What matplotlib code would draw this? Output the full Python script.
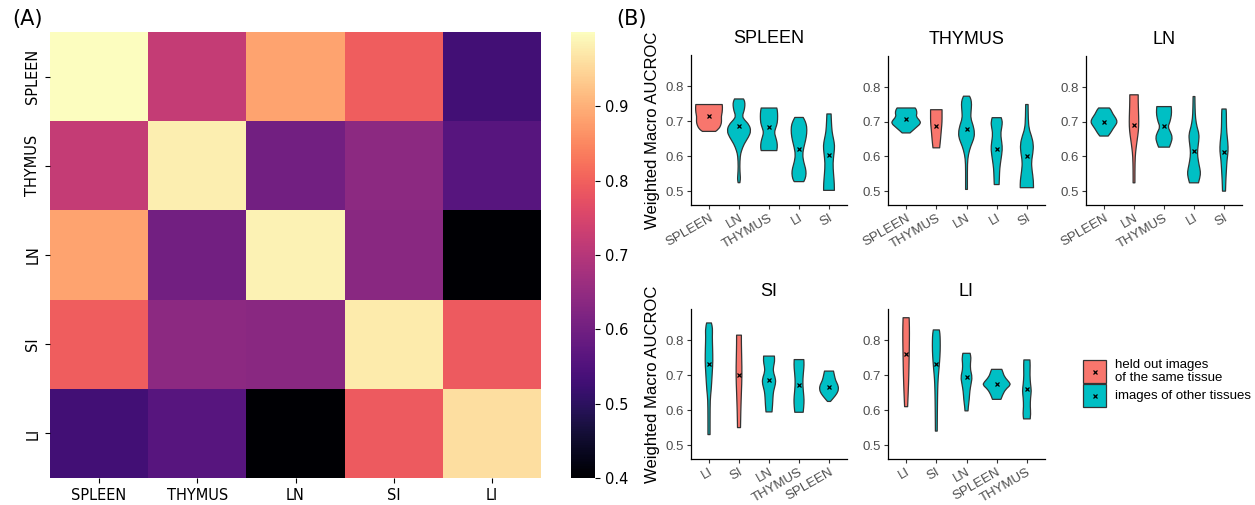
import numpy as np
import matplotlib
matplotlib.use("Agg")
import matplotlib.pyplot as plt
from matplotlib.patches import Rectangle, PathPatch
from matplotlib.path import Path

# ---------------- data ----------------
tissues = ["SPLEEN", "THYMUS", "LN", "SI", "LI"]

# (A) heatmap values, rows = trained on, cols = tested on
heat_vals = np.array([
    [1.000, 0.720, 0.885, 0.795, 0.530],
    [0.720, 0.980, 0.600, 0.640, 0.560],
    [0.885, 0.600, 0.985, 0.635, 0.400],
    [0.795, 0.640, 0.635, 0.975, 0.790],
    [0.530, 0.560, 0.400, 0.790, 0.960],
])

# (B) violin panels: category order, means, and outline profiles (value, half width)
spleen_order = ["SPLEEN", "LN", "THYMUS", "LI", "SI"]
spleen_means = [0.714, 0.686, 0.684, 0.620, 0.603]
spleen_prof = [
    [(0.671, 0.22), (0.678, 0.33), (0.690, 0.40), (0.700, 0.42), (0.714, 0.41), (0.725, 0.44), (0.740, 0.45), (0.748, 0.44)],
    [(0.524, 0.03), (0.535, 0.05), (0.545, 0.04), (0.570, 0.025), (0.600, 0.04), (0.615, 0.08), (0.635, 0.17), (0.655, 0.32),
     (0.672, 0.40), (0.690, 0.34), (0.705, 0.17), (0.715, 0.11), (0.730, 0.17), (0.745, 0.20), (0.757, 0.19), (0.764, 0.15)],
    [(0.616, 0.26), (0.625, 0.28), (0.640, 0.27), (0.655, 0.22), (0.668, 0.18), (0.680, 0.22), (0.695, 0.28), (0.715, 0.29),
     (0.730, 0.28), (0.738, 0.26)],
    [(0.527, 0.16), (0.535, 0.21), (0.550, 0.24), (0.565, 0.22), (0.585, 0.15), (0.605, 0.12), (0.625, 0.16), (0.645, 0.22),
     (0.665, 0.26), (0.685, 0.26), (0.700, 0.21), (0.711, 0.14)],
    [(0.502, 0.18), (0.520, 0.18), (0.550, 0.15), (0.580, 0.13), (0.610, 0.17), (0.630, 0.19), (0.650, 0.15), (0.670, 0.10),
     (0.700, 0.08), (0.721, 0.07)],
]

thymus_order = ["SPLEEN", "THYMUS", "LN", "LI", "SI"]
thymus_means = [0.707, 0.687, 0.679, 0.623, 0.602]
thymus_prof = [
    [(0.668, 0.13), (0.675, 0.22), (0.685, 0.35), (0.695, 0.48), (0.703, 0.46), (0.715, 0.33), (0.725, 0.36), (0.735, 0.34),
     (0.740, 0.30)],
    [(0.625, 0.11), (0.640, 0.13), (0.660, 0.15), (0.680, 0.17), (0.700, 0.19), (0.720, 0.19), (0.735, 0.19)],
    [(0.505, 0.03), (0.530, 0.03), (0.580, 0.03), (0.605, 0.06), (0.630, 0.14), (0.650, 0.24), (0.668, 0.27), (0.690, 0.22),
     (0.710, 0.14), (0.730, 0.15), (0.750, 0.17), (0.765, 0.15), (0.774, 0.10)],
    [(0.519, 0.08), (0.540, 0.09), (0.565, 0.10), (0.590, 0.14), (0.620, 0.19), (0.640, 0.17), (0.665, 0.13), (0.685, 0.17),
     (0.700, 0.19), (0.712, 0.15)],
    [(0.510, 0.22), (0.530, 0.22), (0.560, 0.17), (0.585, 0.15), (0.610, 0.20), (0.635, 0.22), (0.660, 0.15), (0.680, 0.07),
     (0.710, 0.045), (0.750, 0.04)],
]

ln_order = ["SPLEEN", "LN", "THYMUS", "LI", "SI"]
ln_means = [0.700, 0.692, 0.689, 0.615, 0.613]
ln_prof = [
    [(0.659, 0.14), (0.668, 0.22), (0.680, 0.30), (0.692, 0.40), (0.700, 0.44), (0.710, 0.40), (0.722, 0.30), (0.735, 0.23),
     (0.740, 0.18)],
    [(0.524, 0.03), (0.560, 0.03), (0.600, 0.04), (0.625, 0.07), (0.650, 0.11), (0.675, 0.15), (0.700, 0.16), (0.730, 0.15),
     (0.760, 0.14), (0.778, 0.14)],
    [(0.627, 0.18), (0.640, 0.24), (0.655, 0.28), (0.670, 0.22), (0.685, 0.13), (0.700, 0.20), (0.720, 0.25), (0.735, 0.25),
     (0.744, 0.24)],
    [(0.524, 0.15), (0.540, 0.20), (0.555, 0.22), (0.575, 0.17), (0.600, 0.12), (0.620, 0.12), (0.645, 0.16), (0.665, 0.17),
     (0.685, 0.10), (0.710, 0.05), (0.740, 0.035), (0.773, 0.03)],
    [(0.500, 0.05), (0.530, 0.06), (0.560, 0.08), (0.590, 0.10), (0.615, 0.14), (0.640, 0.13), (0.670, 0.09), (0.700, 0.08),
     (0.725, 0.08), (0.737, 0.07)],
]

si_order = ["LI", "SI", "LN", "THYMUS", "SPLEEN"]
si_means = [0.733, 0.700, 0.686, 0.672, 0.666]
si_prof = [
    [(0.530, 0.035), (0.580, 0.035), (0.630, 0.04), (0.655, 0.07), (0.680, 0.09), (0.710, 0.11), (0.740, 0.13), (0.780, 0.12),
     (0.810, 0.11), (0.835, 0.12), (0.850, 0.08)],
    [(0.550, 0.05), (0.600, 0.06), (0.650, 0.08), (0.700, 0.10), (0.750, 0.09), (0.790, 0.08), (0.815, 0.08)],
    [(0.595, 0.10), (0.615, 0.12), (0.635, 0.13), (0.655, 0.15), (0.675, 0.22), (0.690, 0.22), (0.710, 0.14), (0.725, 0.15),
     (0.740, 0.19), (0.755, 0.18)],
    [(0.594, 0.14), (0.610, 0.16), (0.630, 0.17), (0.650, 0.15), (0.670, 0.13), (0.690, 0.13), (0.710, 0.15), (0.730, 0.17),
     (0.745, 0.16)],
    [(0.625, 0.05), (0.635, 0.15), (0.648, 0.27), (0.660, 0.32), (0.672, 0.30), (0.685, 0.22), (0.700, 0.18), (0.712, 0.15)],
]

li_order = ["LI", "SI", "LN", "SPLEEN", "THYMUS"]
li_means = [0.762, 0.733, 0.694, 0.675, 0.661]
li_prof = [
    [(0.610, 0.05), (0.650, 0.07), (0.700, 0.09), (0.750, 0.10), (0.800, 0.11), (0.840, 0.11), (0.865, 0.10)],
    [(0.540, 0.03), (0.600, 0.035), (0.660, 0.045), (0.690, 0.06), (0.710, 0.08), (0.740, 0.11), (0.770, 0.13), (0.800, 0.13),
     (0.820, 0.12), (0.830, 0.10)],
    [(0.598, 0.05), (0.610, 0.06), (0.630, 0.09), (0.655, 0.11), (0.675, 0.15), (0.695, 0.19), (0.715, 0.13), (0.735, 0.13),
     (0.750, 0.15), (0.763, 0.12)],
    [(0.631, 0.14), (0.645, 0.20), (0.660, 0.30), (0.672, 0.46), (0.680, 0.42), (0.695, 0.26), (0.710, 0.20), (0.717, 0.17)],
    [(0.575, 0.11), (0.590, 0.13), (0.610, 0.11), (0.635, 0.12), (0.655, 0.15), (0.675, 0.12), (0.700, 0.10), (0.730, 0.11),
     (0.744, 0.10)],
]

legend_labels = ["held out images\nof the same tissue", "images of other tissues"]

# ---------------- figure ----------------
W, H = 1255, 505
fig = plt.figure(figsize=(W / 100, H / 100), dpi=100)


def px_axes(x0, y0, x1, y1):
    # axes from pixel box (top-left origin)
    return fig.add_axes([x0 / W, 1 - y1 / H, (x1 - x0) / W, (y1 - y0) / H])


# (A) heatmap
ax_h = px_axes(50, 32, 541, 478)
mesh = ax_h.pcolormesh(heat_vals, cmap="magma", vmin=0.4, vmax=1.0)
ax_h.set_xlim(0, 5)
ax_h.set_ylim(5, 0)
ax_h.set_xticks(np.arange(5) + 0.5)
ax_h.set_xticklabels(tissues, fontsize=10.5)
ax_h.set_yticks(np.arange(5) + 0.5)
ax_h.set_yticklabels(tissues, fontsize=10.5, rotation=90, va="center")
for s in ax_h.spines.values():
    s.set_visible(False)

cax = px_axes(571, 32, 595, 478)
cb = fig.colorbar(mesh, cax=cax, ticks=[0.4, 0.5, 0.6, 0.7, 0.8, 0.9])
cb.outline.set_visible(False)
cax.tick_params(labelsize=10.5)

RED = "#F8766D"
TEAL = "#00BFC4"
EDGE = "#333333"
GREY = "#4D4D4D"
FONT = "Liberation Sans"


def side_path(pts):
    # smooth outline through the read points (points used as quadratic controls)
    verts, codes = [pts[0]], [Path.LINETO]
    for i in range(1, len(pts) - 1):
        mid = ((pts[i][0] + pts[i + 1][0]) / 2, (pts[i][1] + pts[i + 1][1]) / 2)
        verts += [pts[i], mid]
        codes += [Path.CURVE3, Path.CURVE3]
    verts.append(pts[-1])
    codes.append(Path.LINETO)
    return verts, codes


def draw_violin(ax, pos, prof, color):
    right = [(pos + w, y) for y, w in prof]
    left = [(pos - w, y) for y, w in prof][::-1]
    v1, c1 = side_path(right)
    v2, c2 = side_path(left)
    verts = v1 + v2 + [right[0]]
    codes = [Path.MOVETO] + c1[1:] + c2 + [Path.CLOSEPOLY]
    patch = PathPatch(Path(verts, codes), facecolor=color, edgecolor=EDGE,
                      linewidth=0.9, joinstyle="round", zorder=2)
    ax.add_patch(patch)


def violin_panel(box, title, order, means, profiles, ylabel):
    ax = px_axes(*box)
    for i, (cat, m, prof) in enumerate(zip(order, means, profiles)):
        pos = i + 1
        col = RED if cat == title else TEAL
        draw_violin(ax, pos, prof, col)
        ax.plot(pos, m, marker="x", color="black", markersize=3.5, mew=0.9, zorder=3)
    ax.set_xlim(0.4, 5.6)
    ax.set_ylim(0.46, 0.89)
    ax.set_yticks([0.5, 0.6, 0.7, 0.8])
    ax.set_yticklabels(["0.5", "0.6", "0.7", "0.8"], fontsize=9.5, color=GREY, family=FONT)
    ax.set_xticks(np.arange(1, 6))
    ax.set_xticklabels(order, rotation=30, ha="right", va="top", rotation_mode="anchor",
                       fontsize=9.5, color=GREY, family=FONT)
    ax.tick_params(length=3, width=0.8, color=EDGE, pad=2)
    ax.spines["top"].set_visible(False)
    ax.spines["right"].set_visible(False)
    for s in ("left", "bottom"):
        ax.spines[s].set_linewidth(0.9)
        ax.spines[s].set_color("black")
    ax.set_title(title, fontsize=13, family=FONT, pad=9)
    if ylabel:
        ax.set_ylabel("Weighted Macro AUCROC", fontsize=12, family=FONT, labelpad=4)
    return ax


violin_panel((691, 55, 847, 205), "SPLEEN", spleen_order, spleen_means, spleen_prof, True)
violin_panel((888, 56, 1045, 205), "THYMUS", thymus_order, thymus_means, thymus_prof, False)
violin_panel((1086, 56, 1242, 205), "LN", ln_order, ln_means, ln_prof, False)
violin_panel((691, 309, 847, 459), "SI", si_order, si_means, si_prof, True)
violin_panel((888, 309, 1045, 459), "LI", li_order, li_means, li_prof, False)

# overlay for panel labels and legend
ov = fig.add_axes([0, 0, 1, 1], zorder=-1)
ov.set_xlim(0, W)
ov.set_ylim(H, 0)
ov.axis("off")
ov.text(12, 19, "(A)", fontsize=15, va="center", ha="left")
ov.text(616, 19, "(B)", fontsize=15, va="center", ha="left")

for k, (lab, col) in enumerate(zip(legend_labels, [RED, TEAL])):
    y0 = 360 + k * 24
    ov.add_patch(Rectangle((1083, y0), 23, 23, facecolor=col, edgecolor=EDGE, lw=0.9))
    ov.plot(1094.5, y0 + 11.5, marker="x", color="black", markersize=3.5, mew=0.9)
    ov.text(1115, y0 + 11.5, lab, fontsize=9.5, family=FONT, va="center", ha="left",
            linespacing=1.05)

fig.savefig("out.png", dpi=100)
